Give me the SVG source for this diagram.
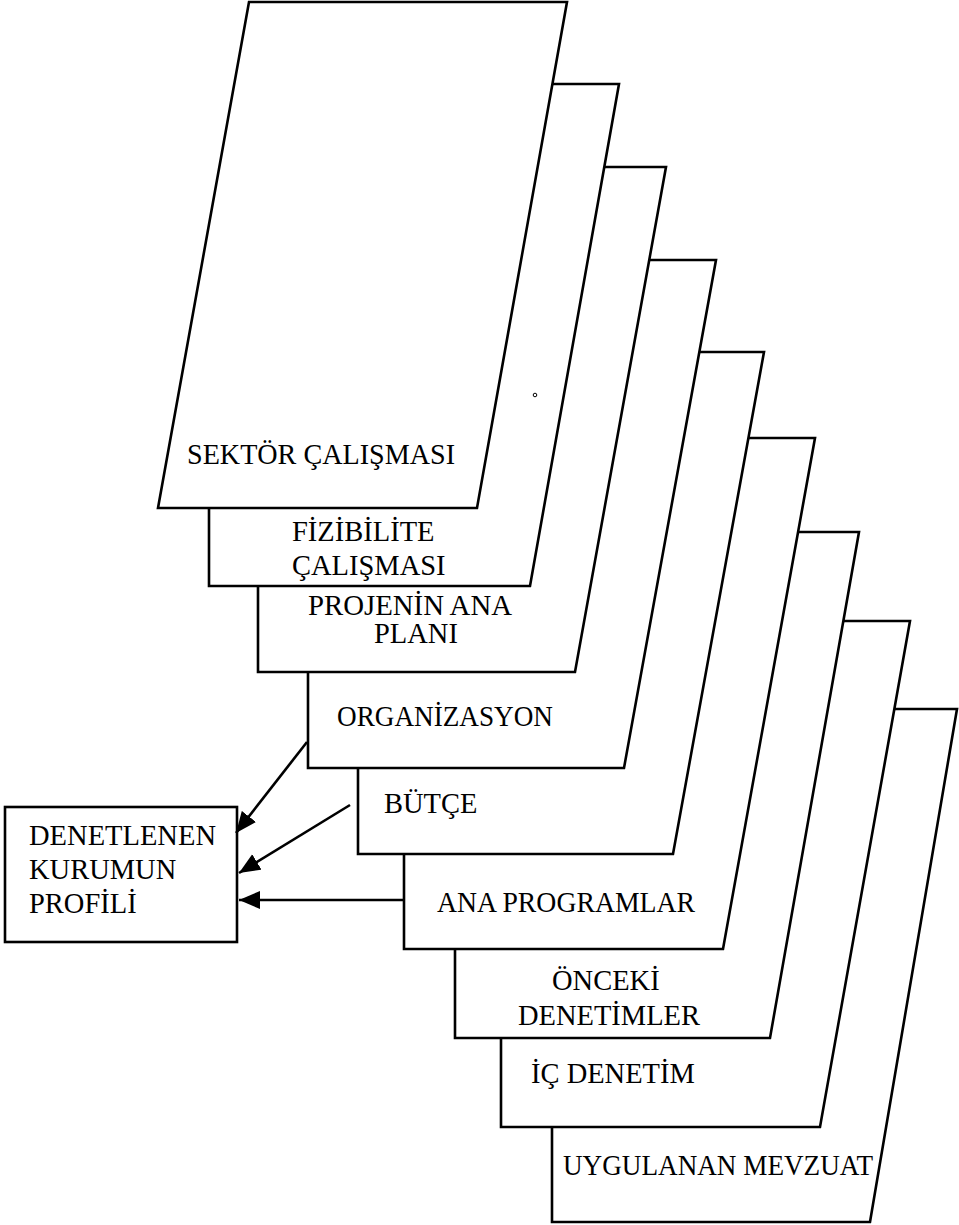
<svg xmlns="http://www.w3.org/2000/svg" width="959" height="1225" viewBox="0 0 959 1225">
  <defs>
    <marker id="arrowhead" markerUnits="userSpaceOnUse" markerWidth="23" markerHeight="19" refX="21" refY="9" orient="auto">
      <path d="M0,0 L21,9 L0,18 Z" fill="#000"/>
    </marker>
  </defs>
  <style>
    .sheet { fill: none; stroke: #000; stroke-width: 2.6; stroke-linejoin: miter; }
    .box { fill: #fff; stroke: #000; stroke-width: 2.6; }
    .lbl { font-family: "Liberation Serif", "Times New Roman", serif; font-size: 28.5px; fill: #000; }
    .link { fill: none; stroke: #000; stroke-width: 2.6; marker-end: url(#arrowhead); }
  </style>
  <rect width="959" height="1225" fill="#fff"/>

  <!-- stacked sheets, front to back; only the visible edges of each are drawn -->
  <g id="sektor-calismasi">
    <path class="sheet" d="M249,2 L567,2 L477,508 L158,508 Z"/>
    <text class="lbl" x="187" y="464" textLength="268" lengthAdjust="spacingAndGlyphs">SEKTÖR ÇALIŞMASI</text>
  </g>
  <g id="fizibilite-calismasi">
    <path class="sheet" d="M552.4,84 L619,84 L530,586 L209,586 L209,508"/>
    <text class="lbl" x="292" y="541">FİZİBİLİTE</text>
    <text class="lbl" x="292" y="575">ÇALIŞMASI</text>
  </g>
  <g id="projenin-ana-plani">
    <path class="sheet" d="M604.3,167 L666,167 L575,672 L258,672 L258,586"/>
    <text class="lbl" x="308" y="615" textLength="204" lengthAdjust="spacingAndGlyphs">PROJENİN ANA</text>
    <text class="lbl" x="374" y="643">PLANI</text>
  </g>
  <g id="organizasyon">
    <path class="sheet" d="M649.2,260 L716,260 L624,768 L308,768 L308,672"/>
    <text class="lbl" x="337" y="726" textLength="216" lengthAdjust="spacingAndGlyphs">ORGANİZASYON</text>
  </g>
  <g id="butce">
    <path class="sheet" d="M699.3,352 L764,352 L673,854 L358,854 L358,768"/>
    <text class="lbl" x="384" y="813">BÜTÇE</text>
  </g>
  <g id="ana-programlar">
    <path class="sheet" d="M748.4,438 L815,438 L723,949 L404,949 L404,854"/>
    <text class="lbl" x="437" y="912" textLength="258" lengthAdjust="spacingAndGlyphs">ANA PROGRAMLAR</text>
  </g>
  <g id="onceki-denetimler">
    <path class="sheet" d="M798.1,532 L859,532 L770,1038 L455,1038 L455,949"/>
    <text class="lbl" x="552" y="990">ÖNCEKİ</text>
    <text class="lbl" x="518" y="1025" textLength="182" lengthAdjust="spacingAndGlyphs">DENETİMLER</text>
  </g>
  <g id="ic-denetim">
    <path class="sheet" d="M843.3,621 L910,621 L820,1127 L501,1127 L501,1038"/>
    <text class="lbl" x="531" y="1083">İÇ DENETİM</text>
  </g>
  <g id="uygulanan-mevzuat">
    <path class="sheet" d="M894.3,709 L957,709 L870,1222 L552,1222 L552,1127"/>
    <text class="lbl" x="563" y="1175" textLength="310" lengthAdjust="spacingAndGlyphs">UYGULANAN MEVZUAT</text>
  </g>

  <!-- target box -->
  <g id="denetlenen-kurumun-profili">
    <rect class="box" x="5" y="807" width="232" height="135"/>
    <text class="lbl" x="29" y="845" textLength="187" lengthAdjust="spacingAndGlyphs">DENETLENEN</text>
    <text class="lbl" x="29" y="879">KURUMUN</text>
    <text class="lbl" x="29" y="913">PROFİLİ</text>
  </g>

  <!-- small stray mark -->
  <circle cx="535" cy="395" r="1.8" fill="none" stroke="#000" stroke-width="1"/>

  <g id="connectors">
    <path class="link" d="M307,742 L236,833"/>
    <path class="link" d="M350,805 L239,873"/>
    <path class="link" d="M404,900 L239,900"/>
  </g>
</svg>
